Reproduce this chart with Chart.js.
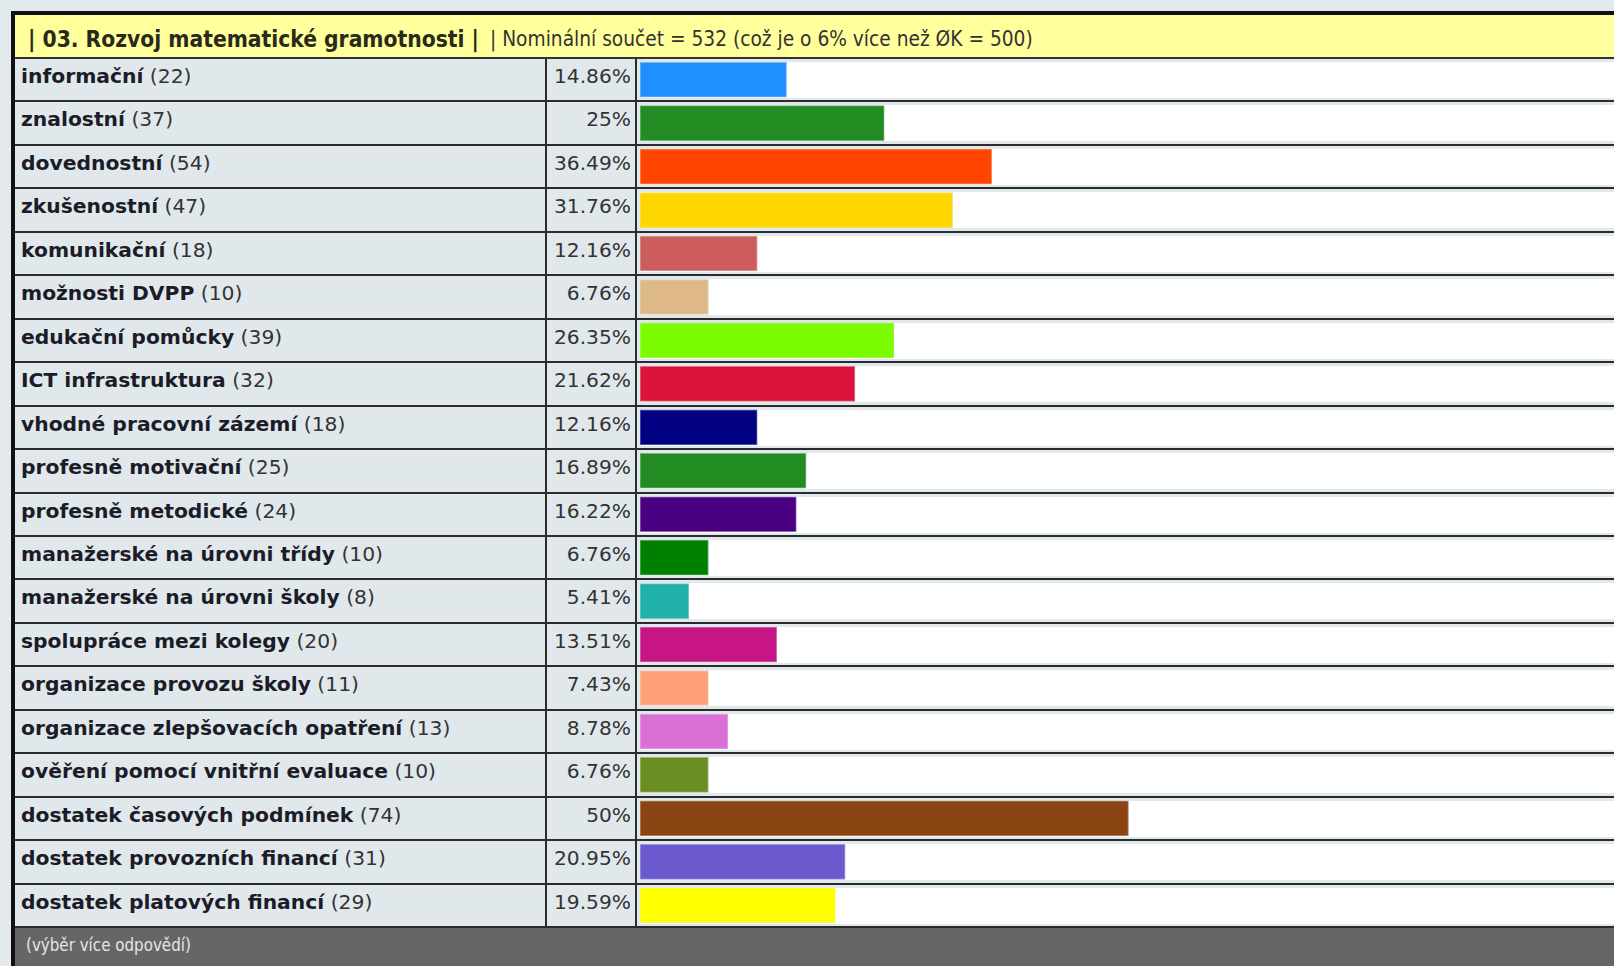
<!DOCTYPE html>
<html lang="cs">
<head>
<meta charset="utf-8">
<script src="https://cdn.jsdelivr.net/npm/chart.js@4.4.1/dist/chart.umd.min.js"></script>
<style>
  html, body { margin: 0; padding: 0; }
  body { width: 1614px; height: 966px; overflow: hidden; background: #e3eaee; position: relative; font-family: "DejaVu Sans", Verdana, sans-serif; }
  #frame { position: absolute; left: 11px; top: 11px; width: 1640px; height: 980px; border-left: 4px solid #111; border-top: 4px solid #111; background: #e1e8ec; }
  #header { position: absolute; left: 0; top: 0; width: 100%; height: 42px; background: #ffff9c; border-bottom: 2px solid #333; white-space: nowrap; }
  #title { position: absolute; left: 13px; top: 0; height: 42px; line-height: 48px; font-family: "DejaVu Sans Condensed", "DejaVu Sans", sans-serif; font-weight: bold; color: #2a2a1a; }
  #subtitle { position: absolute; left: 475px; top: 0; height: 42px; line-height: 49px; font-family: "DejaVu Sans Condensed", "DejaVu Sans", sans-serif; color: #333; }
  #rows { position: absolute; left: 0; top: 44px; width: 100%; height: 869px; display: flex; flex-direction: column; }
  .row { flex: 1 1 0; position: relative; border-bottom: 2px solid #2b2b2b; box-sizing: border-box; background: #e1e8ec; }
  .lab { position: absolute; left: 6px; top: 6px; font-size: 20.3px; line-height: 22px; color: #1c1c28; white-space: nowrap; }
  .lab b { font-weight: bold; }
  .lab span { color: #333; }
  .div1 { position: absolute; left: 530px; top: 0; bottom: 0; width: 2px; background: #2b2b2b; }
  .pct { position: absolute; left: 532px; width: 84px; top: 6px; text-align: right; font-size: 20.2px; line-height: 22px; color: #333; }
  .div2 { position: absolute; left: 620px; top: 0; bottom: 0; width: 2px; background: #2b2b2b; }
  .track { position: absolute; left: 625px; right: 0; top: 3px; height: 36px; background: #fff; }
  #footer { position: absolute; left: 0; top: 913px; width: 100%; height: 80px; background: #666; }
  #foottext { position: absolute; left: 11px; top: 7px; font-family: "DejaVu Sans Condensed", "DejaVu Sans", sans-serif; color: #e6e6e6; white-space: nowrap; line-height: 20px; }
  #chart { position: absolute; left: 640px; top: 58px; }
</style>
</head>
<body>
<div id="frame">
  <div id="header"><span id="title"></span><span id="subtitle"></span></div>
  <div id="rows"></div>
  <div id="footer"><span id="foottext"></span></div>
</div>
<canvas id="chart" width="977" height="869"></canvas>
<script>
const titleText = '| 03. Rozvoj matematické gramotnosti |';
const subtitleText = '| Nominální součet = 532 (což je o 6% více než ØK = 500)';
const footerText = '(výběr více odpovědí)';

const categories = ['informační', 'znalostní', 'dovednostní', 'zkušenostní', 'komunikační', 'možnosti DVPP', 'edukační pomůcky', 'ICT infrastruktura', 'vhodné pracovní zázemí', 'profesně motivační', 'profesně metodické', 'manažerské na úrovni třídy', 'manažerské na úrovni školy', 'spolupráce mezi kolegy', 'organizace provozu školy', 'organizace zlepšovacích opatření', 'ověření pomocí vnitřní evaluace', 'dostatek časových podmínek', 'dostatek provozních financí', 'dostatek platových financí'];
const counts = [22, 37, 54, 47, 18, 10, 39, 32, 18, 25, 24, 10, 8, 20, 11, 13, 10, 74, 31, 29];
const percentLabels = ['14.86%', '25%', '36.49%', '31.76%', '12.16%', '6.76%', '26.35%', '21.62%', '12.16%', '16.89%', '16.22%', '6.76%', '5.41%', '13.51%', '7.43%', '8.78%', '6.76%', '50%', '20.95%', '19.59%'];
const barValues = [15, 25, 36, 32, 12, 7, 26, 22, 12, 17, 16, 7, 5, 14, 7, 9, 7, 50, 21, 20];
const barColors = ['#1E90FF', '#228B22', '#FF4500', '#FFD700', '#CD5C5C', '#DEB887', '#7CFC00', '#DC143C', '#000080', '#228B22', '#4B0082', '#008000', '#20B2AA', '#C71585', '#FFA07A', '#DA70D6', '#6B8E23', '#8B4513', '#6A5ACD', '#FFFF00'];

function lighten(hex, t) {
  const n = parseInt(hex.slice(1), 16);
  const r = (n >> 16) & 255, g = (n >> 8) & 255, b = n & 255;
  const m = (c, w) => Math.round(c + (w - c) * t);
  return 'rgb(' + m(r, 225) + ',' + m(g, 232) + ',' + m(b, 236) + ')';
}

function fitWidth(el, target) {
  el.style.fontSize = '100px';
  const w = el.getBoundingClientRect().width;
  el.style.fontSize = (100 * target / w).toFixed(2) + 'px';
}

document.getElementById('title').textContent = titleText;
document.getElementById('subtitle').textContent = subtitleText;
document.getElementById('foottext').textContent = footerText;
fitWidth(document.getElementById('title'), 451);
fitWidth(document.getElementById('subtitle'), 543);
fitWidth(document.getElementById('foottext'), 165);

const rowsEl = document.getElementById('rows');
categories.forEach((c, i) => {
  const row = document.createElement('div');
  row.className = 'row';
  const lab = document.createElement('div');
  lab.className = 'lab';
  const b = document.createElement('b');
  b.textContent = c;
  const s = document.createElement('span');
  s.textContent = ' (' + counts[i] + ')';
  lab.appendChild(b); lab.appendChild(s);
  const d1 = document.createElement('div'); d1.className = 'div1';
  const p = document.createElement('div'); p.className = 'pct'; p.textContent = percentLabels[i];
  const d2 = document.createElement('div'); d2.className = 'div2';
  const tr = document.createElement('div'); tr.className = 'track';
  row.append(lab, d1, p, d2, tr);
  rowsEl.appendChild(row);
});

new Chart(document.getElementById('chart'), {
  type: 'bar',
  data: {
    labels: categories,
    datasets: [{
      data: barValues,
      backgroundColor: barColors,
      borderColor: barColors.map(c => lighten(c, 0.45)),
      borderWidth: 1,
      borderSkipped: false,
      barThickness: 35
    }]
  },
  options: {
    indexAxis: 'y',
    responsive: false,
    animation: false,
    layout: { padding: 0 },
    plugins: { legend: { display: false }, tooltip: { enabled: false } },
    scales: {
      x: { display: false, min: 0, max: 100 },
      y: { display: false }
    }
  }
});
</script>
</body>
</html>
